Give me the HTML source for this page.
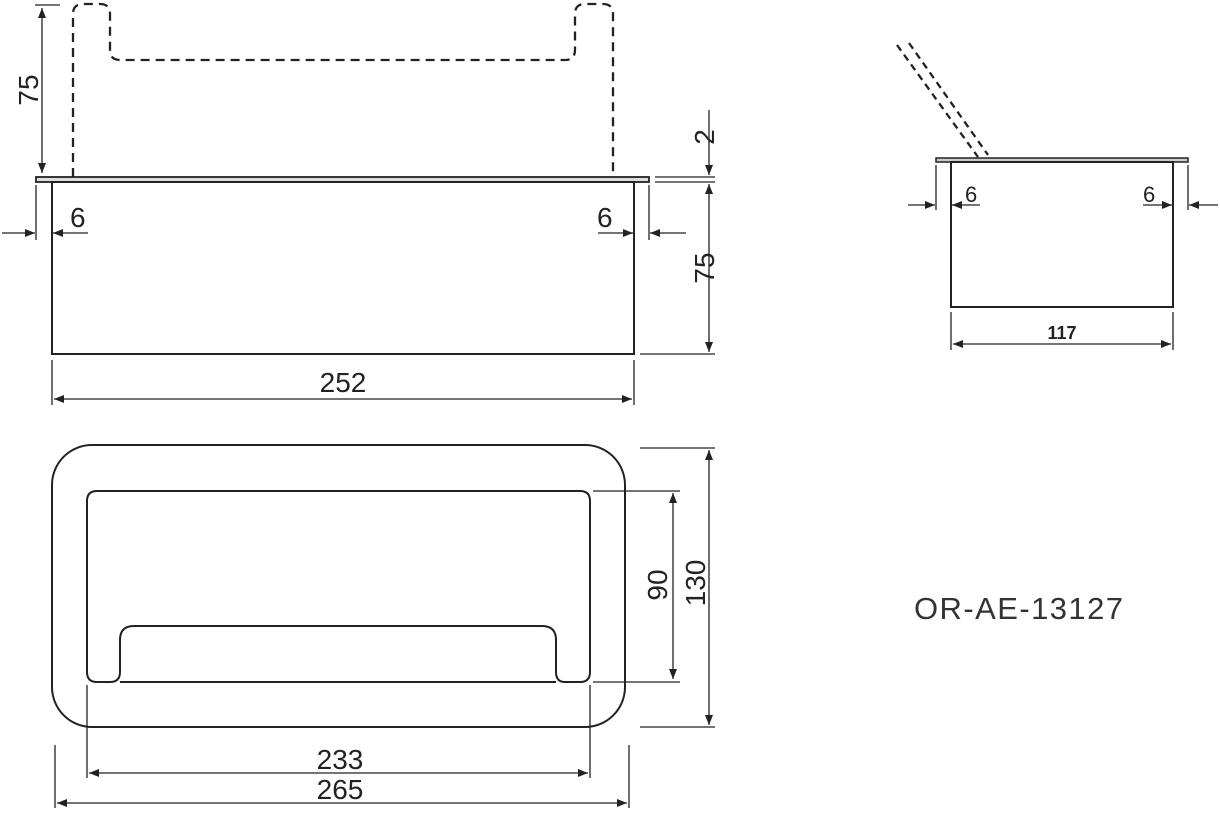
<!DOCTYPE html><html><head><style>body{margin:0;background:#fff}</style></head><body>
<svg width="1220" height="810" xmlns="http://www.w3.org/2000/svg" font-family="Liberation Sans, sans-serif" fill="none" stroke="#222">
<defs><marker id="a" markerWidth="10" markerHeight="8" refX="10" refY="4" orient="auto-start-reverse" markerUnits="userSpaceOnUse"><path d="M0,0L10,4L0,8z" fill="#222" stroke="none"/></marker></defs>
<g stroke-width="2">
<rect x="36" y="177" width="613" height="5" fill="#ddd" stroke-width="1.8"/>
<rect x="52" y="182" width="582" height="172"/>
<path d="M73 177V14Q73 4 83 4H100Q110 4 110 14V50Q110 60 120 60H565Q575 60 575 50V14Q575 4 585 4H603Q613 4 613 14V177" stroke-dasharray="9 6" stroke-width="2.3"/>
</g>
<g stroke-width="1.3">
<path d="M35 5H60M655 177H715M655 182H715M640 354H715M36 185V240M649 185V240M52 360V405M634 360V405"/>
<path d="M42 8V173" marker-start="url(#a)" marker-end="url(#a)"/>
<path d="M709 110V175" marker-end="url(#a)"/>
<path d="M709 184V352" marker-start="url(#a)" marker-end="url(#a)"/>
<path d="M2 233H35" marker-end="url(#a)"/><path d="M88 233H53" marker-end="url(#a)"/>
<path d="M598 233H633" marker-end="url(#a)"/><path d="M686 233H650" marker-end="url(#a)"/>
<path d="M54 399H632" marker-start="url(#a)" marker-end="url(#a)"/>
</g>
<g stroke-width="2">
<rect x="936" y="158" width="252" height="4" fill="#ccc" stroke-width="1.5"/>
<rect x="951" y="162" width="222" height="145"/>
<path d="M897 45L978 157M909 43L988 155" stroke-dasharray="7 5" stroke-width="2.3"/>
</g>
<g stroke-width="1.3">
<path d="M936 165V210M1188 165V210M951 312V350M1173 312V350"/>
<path d="M908 205H935" marker-end="url(#a)"/><path d="M980 205H952" marker-end="url(#a)"/>
<path d="M1143 205H1172" marker-end="url(#a)"/><path d="M1218 205H1189" marker-end="url(#a)"/>
<path d="M953 344H1171" marker-start="url(#a)" marker-end="url(#a)"/>
</g>
<g stroke-width="2">
<rect x="52" y="445" width="573" height="282" rx="40"/>
<path d="M97 491H580Q590 491 590 501V672Q590 682 580 682H565Q556 682 556 672V640Q556 626 542 626H134Q120 626 120 640V672Q120 682 110 682H97Q87 682 87 672V501Q87 491 97 491Z"/>
<path d="M120 682H556"/>
</g>
<g stroke-width="1.3">
<path d="M593 491H680M593 682H680M640 448H715M640 727H715M87 685V778M590 685V778M55 745V808M629 745V808"/>
<path d="M673 493V679" marker-start="url(#a)" marker-end="url(#a)"/>
<path d="M709 450V725" marker-start="url(#a)" marker-end="url(#a)"/>
<path d="M89 773H588" marker-start="url(#a)" marker-end="url(#a)"/>
<path d="M57 803H627" marker-start="url(#a)" marker-end="url(#a)"/>
</g>
<g fill="#222" stroke="none" font-size="28">
<text x="38" y="90" transform="rotate(-90 38 90)" text-anchor="middle">75</text>
<text x="714" y="137" transform="rotate(-90 714 137)" text-anchor="middle">2</text>
<text x="714" y="268" transform="rotate(-90 714 268)" text-anchor="middle">75</text>
<text x="70" y="227">6</text><text x="597" y="227">6</text>
<text x="343" y="392" text-anchor="middle">252</text>
<text x="340" y="769" text-anchor="middle">233</text>
<text x="340" y="799" text-anchor="middle">265</text>
<text x="667" y="585" transform="rotate(-90 667 585)" text-anchor="middle">90</text>
<text x="705" y="583" transform="rotate(-90 705 583)" text-anchor="middle">130</text>
<text x="965" y="202" font-size="22">6</text><text x="1143" y="202" font-size="22">6</text>
<text x="1062" y="339" font-size="18" font-weight="bold" text-anchor="middle">117</text>
<text x="914" y="619" font-size="31" fill="#333" textLength="209" lengthAdjust="spacing">OR-AE-13127</text>
</g>
</svg></body></html>
